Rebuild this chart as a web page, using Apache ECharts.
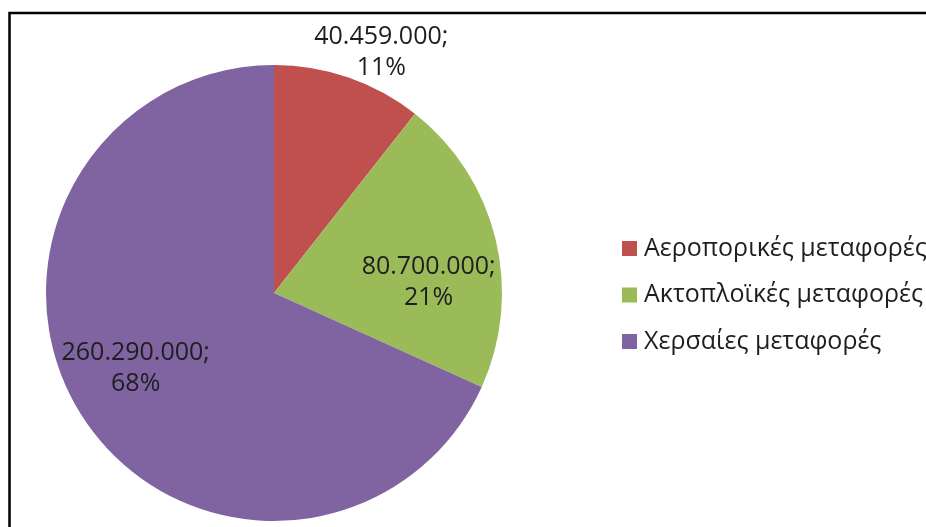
<!DOCTYPE html>
<html><head><meta charset="utf-8">
<script src="https://cdn.jsdelivr.net/npm/echarts@6/dist/echarts.min.js"></script>
<style>html,body{margin:0;padding:0;background:#fff;overflow:hidden}#c{width:926px;height:527px}</style>
</head><body><div id="c"></div>
<script>
const categories = ['Αεροπορικές μεταφορές', 'Ακτοπλοϊκές μεταφορές', 'Χερσαίες μεταφορές'];
const values = [40459000, 80700000, 260290000];
const colors = ['#C0504D', '#9BBB59', '#8064A2'];

const labelShift = [[69, -130], [41, 17], [-40, 12]];

function fmt(v){ return String(v).replace(/\B(?=(\d{3})+(?!\d))/g, '.'); }

const chart = echarts.init(document.getElementById('c'));
chart.setOption({
  animation: false,
  backgroundColor: '#fff',
  color: colors,
  graphic: [{
    type: 'rect', silent: true,
    shape: { x: 9.5, y: 13, width: 1200, height: 1200 },
    style: { fill: 'none', stroke: '#000', lineWidth: 2.5 }
  }],
  legend: {
    orient: 'vertical', left: 617, top: 231,
    itemWidth: 15, itemHeight: 15, itemGap: 21.5, icon: 'rect',
    textStyle: { fontFamily: 'Open Sans', fontSize: 25, fontWeight: 500, color: '#1e1e1e', lineHeight: 20, padding: [0,0,0,2] },
    data: categories
  },
  series: [{
    type: 'pie',
    center: [274, 293], radius: 228,
    startAngle: 90, clockwise: true,
    label: {
      show: true, position: 'inside',
      fontFamily: 'Open Sans', fontSize: 25, fontWeight: 500, color: '#1e1e1e', lineHeight: 31,
      formatter: p => fmt(p.value) + ';\n' + Math.round(p.percent) + '%'
    },
    labelLine: { show: false },
    labelLayout: p => ({ dx: labelShift[p.dataIndex][0], dy: labelShift[p.dataIndex][1] }),
    itemStyle: { borderWidth: 0 },
    emphasis: { disabled: true },
    data: categories.map((n, i) => ({ name: n, value: values[i] }))
  }]
});
</script></body></html>
